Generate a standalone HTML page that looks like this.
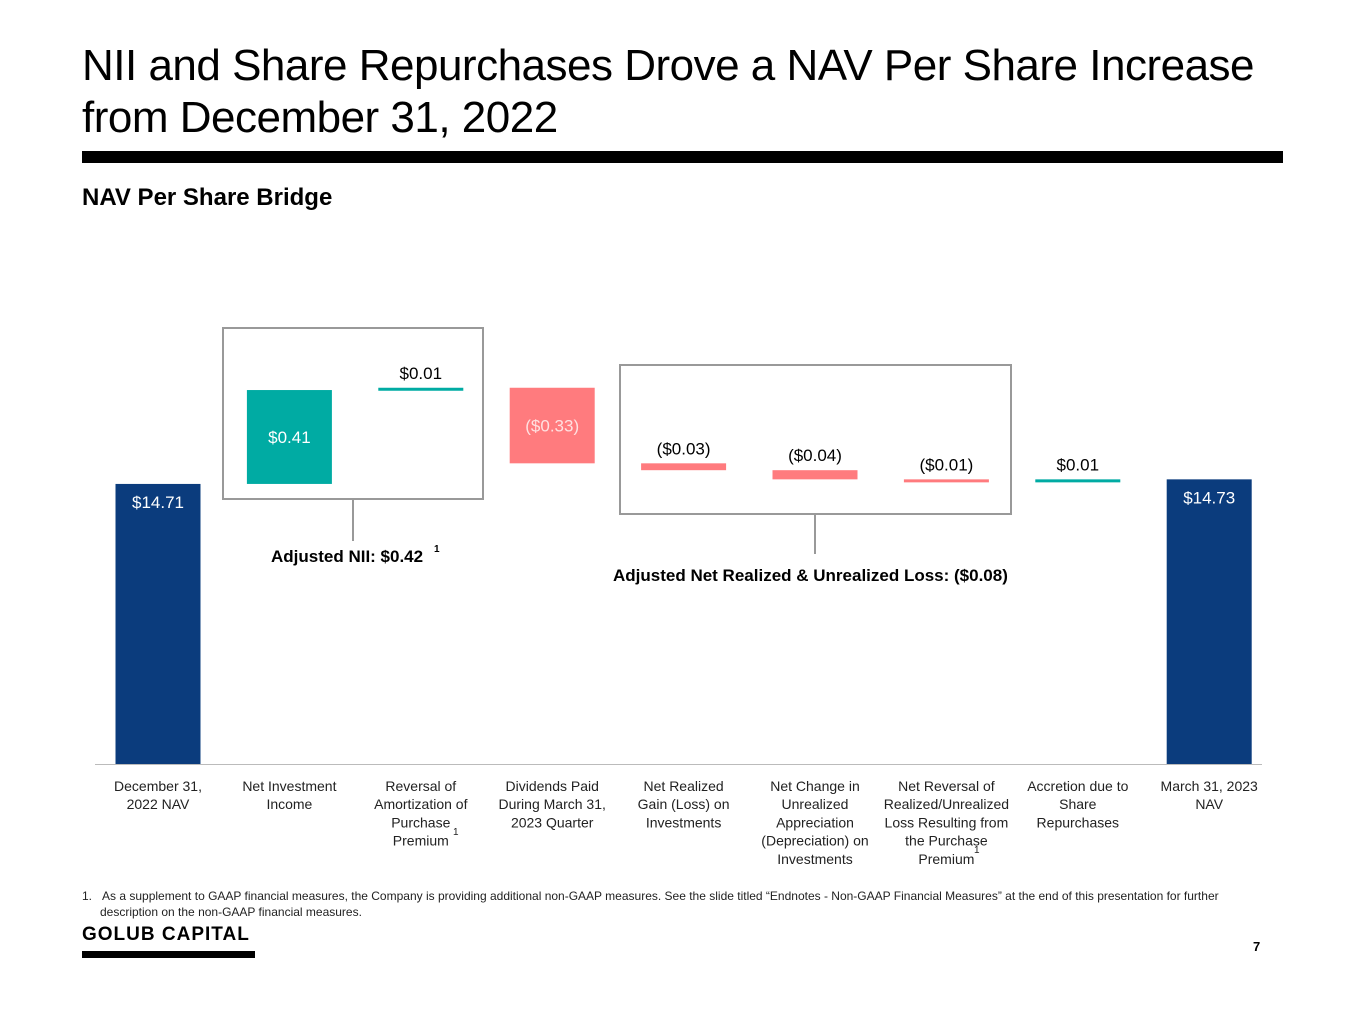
<!DOCTYPE html>
<html><head><meta charset="utf-8"><style>
body{margin:0;width:1365px;height:1024px;background:#fff;font-family:"Liberation Sans",sans-serif;position:relative;overflow:hidden}
.t{position:absolute;color:#000}
</style></head><body>
<div class="t" style="left:82px;top:40px;font-size:44px;line-height:52px;letter-spacing:-0.5px">NII and Share Repurchases Drove a NAV Per Share Increase<br>from December 31, 2022</div>
<div style="position:absolute;left:82px;top:151px;width:1201px;height:12px;background:#000"></div>
<div class="t" style="left:82px;top:184px;font-size:24px;font-weight:bold">NAV Per Share Bridge</div>
<svg id="chart" width="1365" height="880" style="position:absolute;left:0;top:0" font-family="Liberation Sans, sans-serif"></svg>
<div class="t" style="left:82px;top:888px;font-size:12px;line-height:16px;color:#222;width:1165px;padding-left:18px;text-indent:-18px">1.&nbsp;&nbsp;&nbsp;As a supplement to GAAP financial measures, the Company is providing additional non-GAAP measures. See the slide titled “Endnotes - Non-GAAP Financial Measures” at the end of this presentation for further description on the non-GAAP financial measures.</div>
<div class="t" style="left:82px;top:924px;font-size:19px;font-weight:bold;letter-spacing:1px">GOLUB CAPITAL</div>
<div style="position:absolute;left:82px;top:951px;width:173px;height:7px;background:#000"></div>
<div class="t" style="left:1253px;top:939px;font-size:13px;font-weight:bold">7</div>
<script>
const categories=["December 31,|2022 NAV","Net Investment|Income","Reversal of|Amortization of|Purchase|Premium","Dividends Paid|During March 31,|2023 Quarter","Net Realized|Gain (Loss) on|Investments","Net Change in|Unrealized|Appreciation|(Depreciation) on|Investments","Net Reversal of|Realized/Unrealized|Loss Resulting from|the Purchase|Premium","Accretion due to|Share|Repurchases","March 31, 2023|NAV"];
const values=[14.71,0.41,0.01,-0.33,-0.03,-0.04,-0.01,0.01,14.73];
const types=["total","delta","delta","delta","delta","delta","delta","delta","total"];
const valueLabels=["$14.71","$0.41","$0.01","($0.33)","($0.03)","($0.04)","($0.01)","$0.01","$14.73"];
const yMin=13.487, pxPer=229, base=764;
const y=v=>base-(v-yMin)*pxPer;
const x=i=>158+i*131.4;
const svg=document.getElementById('chart');const NS="http://www.w3.org/2000/svg";
function mk(t,a,p){const e=document.createElementNS(NS,t);for(const k in a)e.setAttribute(k,a[k]);(p||svg).appendChild(e);return e;}
let b1=mk('rect',{x:223,y:328,width:260,height:171,fill:'none',stroke:'#999','stroke-width':2});

let b2=mk('rect',{x:620,y:365,width:391,height:149,fill:'none',stroke:'#999','stroke-width':2});

mk('line',{x1:353,y1:499,x2:353,y2:541,stroke:'#999','stroke-width':2});
mk('line',{x1:815,y1:514,x2:815,y2:554,stroke:'#999','stroke-width':2});
let a1=mk('text',{x:271,y:562,'font-size':17,'font-weight':'bold',fill:'#000'});a1.textContent='Adjusted NII: $0.42';

let s1=mk('text',{x:434,y:552,'font-size':10,'font-weight':'bold'});s1.textContent='1';
let a2=mk('text',{x:613,y:581,'font-size':17,'font-weight':'bold',fill:'#000'});a2.textContent='Adjusted Net Realized & Unrealized Loss: ($0.08)';

let ax=mk('line',{x1:95,y1:764.5,x2:1262,y2:764.5,stroke:'#bbb','stroke-width':1});

let run=0;
values.forEach((v,i)=>{
  let top,bot,col;
  if(types[i]=='total'){top=y(v);bot=base;col='#0b3c7d';run=v;}
  else{const s=run,e=run+v;top=y(Math.max(s,e));bot=y(Math.min(s,e));run=e;col=v>=0?'#00aba3':'#ff7b7e';}
  const h=Math.max(bot-top,3);
  const r=mk('rect',{x:x(i)-42.5,y:top,width:85,height:h,fill:col});
  
  const inside=h>30;
  let ty=inside?(types[i]=='total'?top+24:top+h/2+6):top-9;
  const t=mk('text',{x:x(i),y:ty,'text-anchor':'middle','font-size':17,fill:inside?(v<0?'#ffe0e0':'#fff'):'#000'});
  t.textContent=valueLabels[i];
  
  const lines=categories[i].split('|');
  const g=mk('text',{'text-anchor':'middle','font-size':14,fill:'#222'});
  
  lines.forEach((l,j)=>{const ts=mk('tspan',{x:x(i),y:791+j*18.2},g);ts.textContent=l;});
});
let f1=mk('text',{x:453,y:835,'font-size':10,fill:'#222'});f1.textContent='1';
let f2=mk('text',{x:974,y:853,'font-size':10,fill:'#222'});f2.textContent='1';
</script>
</body></html>
